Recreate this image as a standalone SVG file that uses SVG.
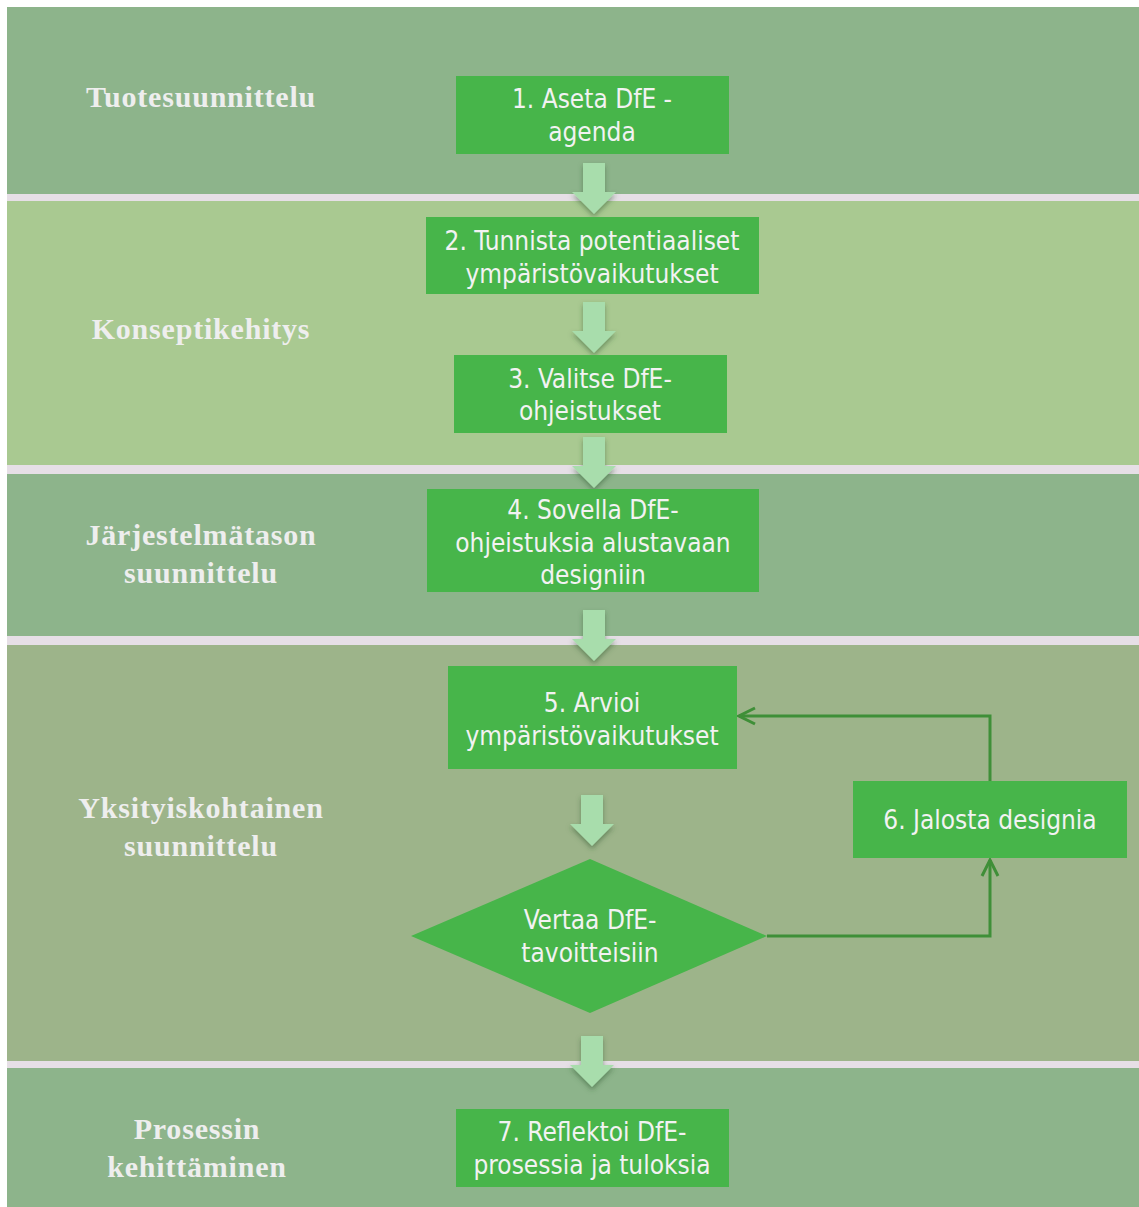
<svg xmlns="http://www.w3.org/2000/svg" width="1139" height="1207" viewBox="0 0 1139 1207">
<defs>
<style>
.lane{font-family:"Liberation Serif","Times New Roman",serif;font-weight:bold;font-size:30px;letter-spacing:0.8px;fill:#eeeeee;text-anchor:middle}
.box{fill:#47b54a}
.bt{font-family:"Liberation Sans Narrow","DejaVu Sans Condensed","Liberation Sans",sans-serif;font-size:26px;fill:#f2f2f2;text-anchor:middle}
.blk{fill:#a8ddac}
.fb{fill:none;stroke:#3f8f38;stroke-width:3}
</style>
<filter id="sh" x="-50%" y="-50%" width="200%" height="200%">
<feDropShadow dx="0" dy="3" stdDeviation="2.5" flood-color="#2f5a2f" flood-opacity="0.5"/>
</filter>
<marker id="ah" viewBox="0 0 20 20" refX="18" refY="10" markerWidth="20" markerHeight="20" markerUnits="userSpaceOnUse" orient="auto">
<path d="M2,2 L18,10 L2,18" fill="none" stroke="#3f8f38" stroke-width="3"/>
</marker>
<path id="blkarrow" d="M-11,0 H11 V29 H22 L0,51 L-22,29 H-11 Z"/>
</defs>
<rect x="0" y="0" width="1139" height="1207" fill="#ffffff"/>
<g id="lanes">
<rect x="7" y="7" width="1132" height="1200" fill="#e6dfe6"/>
<rect x="7" y="7" width="1132" height="187" fill="#8db48b"/>
<rect x="7" y="201" width="1132" height="264" fill="#a9c991"/>
<rect x="7" y="474" width="1132" height="162" fill="#8db48b"/>
<rect x="7" y="645" width="1132" height="416" fill="#9db48a"/>
<rect x="7" y="1068" width="1132" height="139" fill="#8db48b"/>
<text class="lane" x="201" y="107">Tuotesuunnittelu</text>
<text class="lane" x="201" y="339">Konseptikehitys</text>
<text class="lane" x="201" y="545">Järjestelmätason</text>
<text class="lane" x="201" y="583">suunnittelu</text>
<text class="lane" x="201" y="818">Yksityiskohtainen</text>
<text class="lane" x="201" y="856">suunnittelu</text>
<text class="lane" x="197" y="1139">Prosessin</text>
<text class="lane" x="197" y="1177">kehittäminen</text>
</g>
<g id="connectors">
<g class="blk" filter="url(#sh)">
<use href="#blkarrow" x="594" y="163"/>
<use href="#blkarrow" x="594" y="302"/>
<use href="#blkarrow" x="594" y="437"/>
<use href="#blkarrow" x="594" y="610"/>
<use href="#blkarrow" x="592" y="795"/>
<use href="#blkarrow" x="592" y="1036"/>
</g>
<path class="fb" d="M767,936 H990 V860" marker-end="url(#ah)"/>
<path class="fb" d="M990,781 V716 H739" marker-end="url(#ah)"/>
</g>
<g id="n1"><rect class="box" x="456" y="76" width="273" height="78"/>
<text class="bt" x="592" y="108">1. Aseta DfE -</text><text class="bt" x="592" y="141">agenda</text></g>
<g id="n2"><rect class="box" x="426" y="217" width="333" height="77"/>
<text class="bt" x="592" y="250">2. Tunnista potentiaaliset</text><text class="bt" x="592" y="283">ympäristövaikutukset</text></g>
<g id="n3"><rect class="box" x="454" y="355" width="273" height="78"/>
<text class="bt" x="590" y="388">3. Valitse DfE-</text><text class="bt" x="590" y="420">ohjeistukset</text></g>
<g id="n4"><rect class="box" x="427" y="489" width="332" height="103"/>
<text class="bt" x="593" y="519">4. Sovella DfE-</text><text class="bt" x="593" y="552">ohjeistuksia alustavaan</text><text class="bt" x="593" y="584">designiin</text></g>
<g id="n5"><rect class="box" x="448" y="666" width="289" height="103"/>
<text class="bt" x="592" y="712">5. Arvioi</text><text class="bt" x="592" y="745">ympäristövaikutukset</text></g>
<g id="n6"><rect class="box" x="853" y="781" width="274" height="77"/>
<text class="bt" x="990" y="829">6. Jalosta designia</text></g>
<g id="d1"><polygon class="box" points="590,859 767,936 590,1013 411,936"/>
<text class="bt" x="590" y="929">Vertaa DfE-</text><text class="bt" x="590" y="962">tavoitteisiin</text></g>
<g id="n7"><rect class="box" x="456" y="1109" width="273" height="78"/>
<text class="bt" x="592" y="1141">7. Reflektoi DfE-</text><text class="bt" x="592" y="1174">prosessia ja tuloksia</text></g>
</svg>
